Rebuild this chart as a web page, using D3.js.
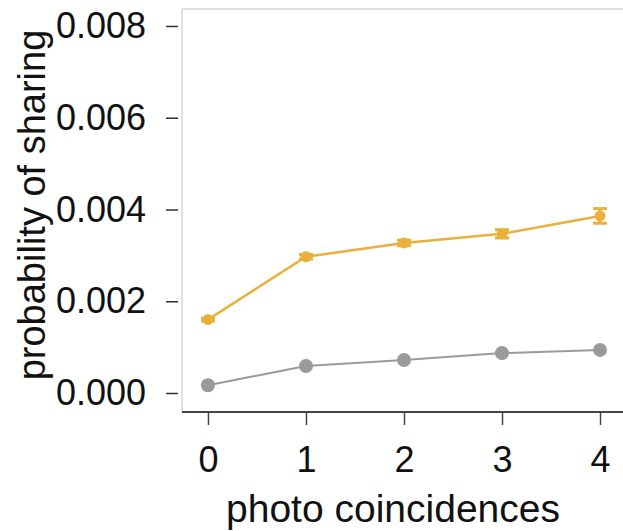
<!DOCTYPE html>
<html lang="en">
<head>
    <meta charset="UTF-8">
    <title>photo coincidences</title>
    <script src="https://d3js.org/d3.v7.min.js"></script>
    <style>
        body { margin: 0; background: #fff; }
        svg text { font-family: "Liberation Sans", Arial, sans-serif; fill: #111; }
    </style>
</head>
<body>
    <div id="chart"></div>
    <script>
        // data
        const coincidences = [0, 1, 2, 3, 4];
        const orangeValues = [0.00160, 0.00297, 0.00327, 0.00347, 0.00386];
        const orangeErrors = [0.00003, 0.00005, 0.00006, 0.00009, 0.00016];
        const greyValues = [0.00017, 0.00059, 0.00072, 0.00087, 0.00094];
        const yTicks = [0, 0.002, 0.004, 0.006, 0.008];

        const width = 623;
        const height = 531;
        const plotLeft = 182, plotRight = 626, plotTop = 9, plotBottom = 412;

        const svg = d3.select("#chart")
            .append("svg")
            .attr("width", width)
            .attr("height", height);

        const x = d3.scaleLinear().domain([-0.265, 4.265]).range([plotLeft, plotRight]);
        const y = d3.scaleLinear().domain([-0.000414, 0.00837]).range([plotBottom, plotTop]);

        // frame: light left and top lines
        svg.append("line")
            .attr("x1", plotLeft).attr("x2", plotLeft).attr("y1", plotTop).attr("y2", plotBottom)
            .attr("stroke", "#d6d6d6").attr("stroke-width", 1.5);
        svg.append("line")
            .attr("x1", plotLeft).attr("x2", plotRight).attr("y1", plotTop).attr("y2", plotTop)
            .attr("stroke", "#d6d6d6").attr("stroke-width", 1.5);

        // y axis (ticks detached from frame)
        const yAxis = svg.append("g")
            .attr("transform", `translate(${plotLeft - 4},0)`)
            .call(d3.axisLeft(y).tickValues(yTicks).tickSize(12).tickPadding(20)
                .tickFormat(d3.format(".3f")));
        yAxis.select(".domain").remove();
        yAxis.selectAll(".tick line").attr("stroke", "#333").attr("stroke-width", 1.5);
        yAxis.selectAll(".tick text").style("font-size", "36px").attr("fill", "#111");

        // x axis
        const xAxis = svg.append("g")
            .attr("transform", `translate(0,${plotBottom})`)
            .call(d3.axisBottom(x).tickValues(coincidences).tickSize(13).tickPadding(21)
                .tickFormat(d3.format("d")));
        xAxis.select(".domain").attr("stroke", "#444").attr("stroke-width", 2)
            .attr("d", `M${plotLeft},0H${plotRight}`);
        xAxis.selectAll(".tick line").attr("stroke", "#444").attr("stroke-width", 1.5);
        xAxis.selectAll(".tick text").style("font-size", "36px").attr("fill", "#111");

        // axis titles
        svg.append("text")
            .attr("transform", `translate(45,205) rotate(-90)`)
            .attr("text-anchor", "middle")
            .style("font-size", "38px")
            .text("probability of sharing");
        svg.append("text")
            .attr("x", 393).attr("y", 522)
            .attr("text-anchor", "middle")
            .style("font-size", "39px")
            .text("photo coincidences");

        const line = d3.line().x((d, i) => x(coincidences[i])).y(d => y(d));

        // grey series
        svg.append("path")
            .datum(greyValues)
            .attr("d", line)
            .attr("fill", "none")
            .attr("stroke", "#9a9a9a")
            .attr("stroke-width", 2);
        svg.selectAll(".grey-dot")
            .data(greyValues)
            .enter()
            .append("circle")
            .attr("class", "grey-dot")
            .attr("cx", (d, i) => x(coincidences[i]))
            .attr("cy", d => y(d))
            .attr("r", 7)
            .attr("fill", "#9a9a9a");

        // orange series
        const orange = "#e9b03c";
        svg.append("path")
            .datum(orangeValues)
            .attr("d", line)
            .attr("fill", "none")
            .attr("stroke", orange)
            .attr("stroke-width", 2.5);

        const bars = svg.selectAll(".err")
            .data(orangeValues)
            .enter()
            .append("g")
            .attr("class", "err")
            .attr("transform", (d, i) => `translate(${x(coincidences[i])},0)`);
        bars.append("line")
            .attr("y1", (d, i) => y(d - orangeErrors[i]))
            .attr("y2", (d, i) => y(d + orangeErrors[i]))
            .attr("stroke", orange).attr("stroke-width", 3);
        bars.append("line")
            .attr("x1", -7).attr("x2", 7)
            .attr("y1", (d, i) => y(d + orangeErrors[i]))
            .attr("y2", (d, i) => y(d + orangeErrors[i]))
            .attr("stroke", orange).attr("stroke-width", 3);
        bars.append("line")
            .attr("x1", -7).attr("x2", 7)
            .attr("y1", (d, i) => y(d - orangeErrors[i]))
            .attr("y2", (d, i) => y(d - orangeErrors[i]))
            .attr("stroke", orange).attr("stroke-width", 3);
        bars.append("circle")
            .attr("cy", d => y(d))
            .attr("r", 5.5)
            .attr("fill", orange);
    </script>
</body>
</html>
